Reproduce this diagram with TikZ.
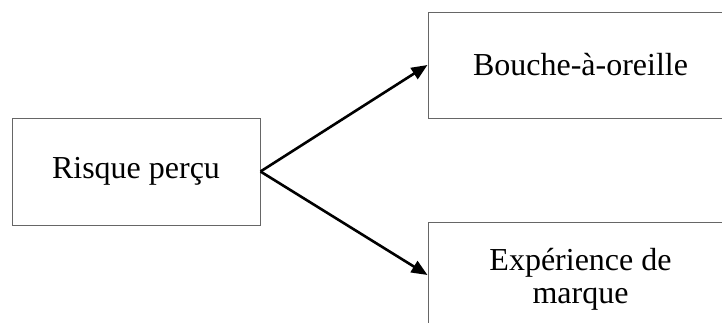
\documentclass[tikz,border=0pt]{standalone}
\usepackage{fontspec}
\setmainfont{Liberation Serif}
\usetikzlibrary{arrows.meta}

\tikzset{
  boite/.style={draw=black!60, line width=0.5pt, fill=white, align=center,
    font=\fontsize{16}{16.5}\selectfont, inner sep=0pt},
  fleche/.style={line width=1.3pt, -{Triangle[length=8pt, width=6.5pt]}}
}

\begin{document}
\begin{tikzpicture}[x=0.5pt, y=-0.5pt]
  \clip (0,0) rectangle (722,322);

  \node[boite, minimum width=124pt, minimum height=53.5pt] (risque) at (136,171.5) {Risque perçu};
  \node[boite, minimum width=152.5pt, minimum height=53pt] (bouche) at (580.5,65) {Bouche-à-oreille};
  \node[boite, minimum width=152.5pt, minimum height=57pt] (experience) at (580.5,279) {Expérience de\\marque};

  \draw[fleche] (risque.east) -- (bouche.west);
  \draw[fleche] (risque.east) -- ([yshift=2pt]experience.west);
\end{tikzpicture}
\end{document}
